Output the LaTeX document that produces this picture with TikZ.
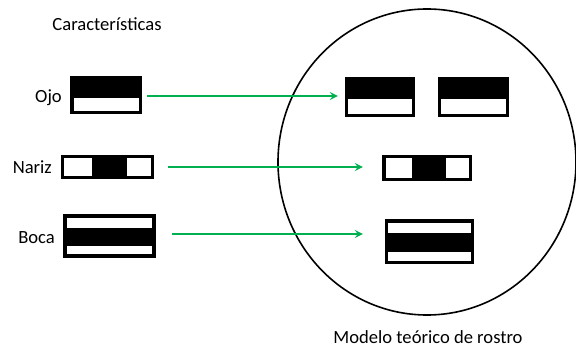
\documentclass[tikz,border=0pt]{standalone}
\usepackage{fontspec}
\setmainfont{Carlito}
\usetikzlibrary{arrows.meta,shapes.geometric}
\definecolor{arrgreen}{RGB}{0,176,80}
\begin{document}
\begin{tikzpicture}[x=1pt,y=-1pt,
  feat/.style={fill=black,draw=none,inner sep=0pt,minimum width=#1},
  hole/.style={fill=white},
  lbl/.style={font=\fontsize{18.6}{21}\selectfont,inner sep=0pt},
  conn/.style={draw=arrgreen,line width=1.5pt,-{Stealth[length=8pt,width=8pt,inset=3pt]}}]
\useasboundingbox (0,0) rectangle (576,347);
% title
\node[lbl] (title) at (107,24) {Características};
\node[lbl] (model) at (428,337) {Modelo teórico de rostro};
% face outline
\node[draw=black,line width=1.6pt,ellipse,minimum width=298pt,minimum height=306pt,inner sep=0pt] (face) at (427,162) {};
% left features
\node[feat=72pt,minimum height=38pt] (ojo) at (106,95) {};
\fill[hole] (74,98) rectangle (139,111);
\node[feat=93pt,minimum height=24pt] (nariz) at (107.5,167) {};
\fill[hole] (64,158) rectangle (92,176);
\fill[hole] (127,158) rectangle (151,176);
\node[feat=93pt,minimum height=44pt] (boca) at (109.5,236) {};
\fill[hole] (67,218) rectangle (152,228);
\fill[hole] (67,246) rectangle (152,254);
% labels
\node[lbl,anchor=east] (lojo) at (62,98) {Ojo};
\node[lbl,anchor=east] (lnariz) at (52,167) {Nariz};
\node[lbl,anchor=east] (lboca) at (55,238) {Boca};
% right features
\node[feat=70pt,minimum height=40pt] (eyeL) at (380,97) {};
\fill[hole] (348,99) rectangle (412,114);
\node[feat=71pt,minimum height=40pt] (eyeR) at (473.5,97) {};
\fill[hole] (441,99) rectangle (506,114);
\node[feat=90pt,minimum height=26pt] (nose) at (427,168) {};
\fill[hole] (386,158) rectangle (412,178);
\fill[hole] (446,158) rectangle (469,178);
\node[feat=89pt,minimum height=45pt] (mouth) at (429.5,241.5) {};
\fill[hole] (388,223) rectangle (471,233);
\fill[hole] (388,252) rectangle (471,261);
% connectors
\draw[conn] ([xshift=5pt,yshift=-1pt]ojo.east) -- ([xshift=-7pt,yshift=1pt]eyeL.west);
\draw[conn] ([xshift=14pt]nariz.east) -- ([xshift=-19pt,yshift=1pt]nose.west);
\draw[conn] ([xshift=16pt,yshift=2pt]boca.east) -- ([xshift=-22pt,yshift=7.5pt]mouth.west);
\end{tikzpicture}
\end{document}
